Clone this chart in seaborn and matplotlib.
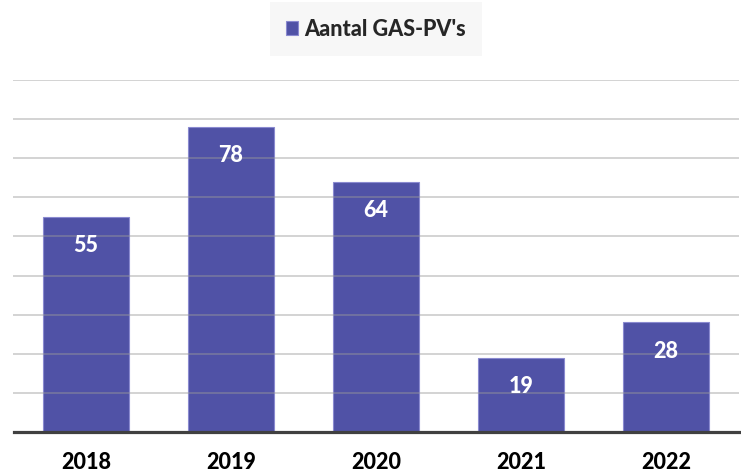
import matplotlib
matplotlib.use("Agg")
import matplotlib.pyplot as plt
import seaborn as sns
import pandas as pd
from matplotlib.patches import Patch

years = ["2018", "2019", "2020", "2021", "2022"]
counts = [55, 78, 64, 19, 28]
series_name = "Aantal GAS-PV's"

sns.set_theme(style="white")
plt.rcParams['font.family'] = ['Lato', 'DejaVu Sans']

BAR = "#5052A6"
W = 900
df = pd.DataFrame({"year": years, "count": counts})

fig = plt.figure(figsize=(7.41, 4.74), dpi=100)
ax = fig.add_axes([13.5/741, 1-432/474, (738.5-13.5)/741, (432-80)/474])

sns.barplot(data=df, x="year", y="count", color=BAR, saturation=1, width=0.593,
            edgecolor="#8a8ad0", linewidth=0.8, ax=ax)

ax.set_ylim(0, 90)
ax.set_yticks(range(10, 91, 10))
ax.set_yticklabels([])
ax.tick_params(axis='y', length=0)
ax.set_axisbelow(False)
ax.yaxis.grid(True, color="#9a9a9a", alpha=0.55, linewidth=1.1)
ax.xaxis.grid(False)
for s in ["left", "right", "top"]:
    ax.spines[s].set_visible(False)
ax.spines["bottom"].set_color("#404040")
ax.spines["bottom"].set_linewidth(2.3)
ax.spines["bottom"].set_zorder(5)
ax.set_xlabel("")
ax.set_ylabel("")
ax.tick_params(axis='x', length=0, pad=14.5, labelsize=15.5, labelcolor="black")
for t in ax.get_xticklabels():
    t.set_fontweight(W)

for i, v in enumerate(counts):
    ax.annotate(str(v), xy=(i, v), xytext=(0, -29), textcoords="offset pixels",
                ha="center", va="center", color="white", fontsize=15.5,
                fontweight=W, zorder=6)

handle = Patch(facecolor=BAR, edgecolor="#8a8ad0", linewidth=0.8)
leg = fig.legend([handle], [series_name], loc="center",
                 bbox_to_anchor=(376/741, 1-29/474),
                 frameon=True, fancybox=False, handlelength=0.58, handleheight=0.58,
                 handletextpad=0.3, borderpad=0.75, borderaxespad=0,
                 prop={"weight": W, "size": 15.5})
leg.get_frame().set_facecolor("#f7f7f7")
leg.get_frame().set_edgecolor("none")
leg.get_frame().set_alpha(1)

fig.savefig("out.png", dpi=100)
